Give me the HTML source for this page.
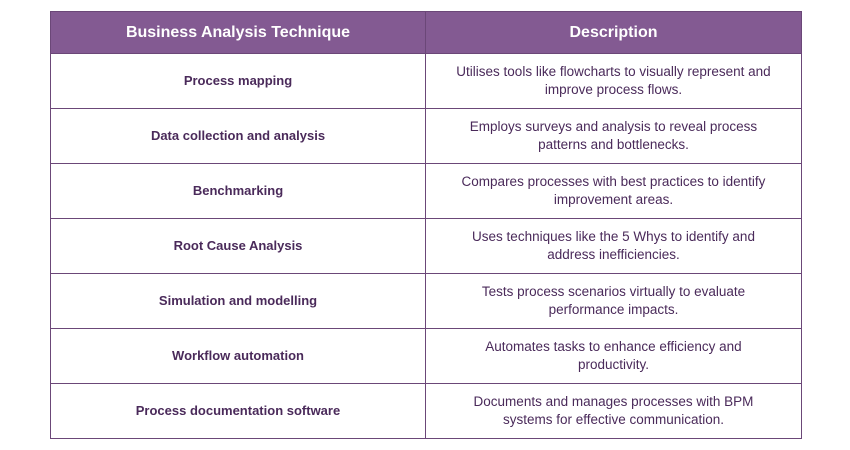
<!DOCTYPE html>
<html><head><style>
body{margin:0;width:850px;height:450px;background:#fff;font-family:"Liberation Sans",sans-serif;}
table{position:absolute;left:50px;top:11px;width:751px;border-collapse:collapse;table-layout:fixed;}
td,th{border:1px solid #6b4778;text-align:center;padding:0 8px;}
th{background:#835a92;color:#fff;font-size:16px;font-weight:bold;height:41px;}
td{height:54px;color:#4a2a5a;font-size:13.5px;line-height:18px;}
td:nth-child(2){padding:0 22px;}
td:first-child{font-weight:bold;font-size:13px;}
</style></head><body>
<table>
<colgroup><col style="width:375px"><col style="width:376px"></colgroup>
<tr><th>Business Analysis Technique</th><th>Description</th></tr>
<tr><td>Process mapping</td><td>Utilises tools like flowcharts to visually represent and improve process flows.</td></tr>
<tr><td>Data collection and analysis</td><td>Employs surveys and analysis to reveal process<br>patterns and bottlenecks.</td></tr>
<tr><td>Benchmarking</td><td>Compares processes with best practices to identify<br>improvement areas.</td></tr>
<tr><td>Root Cause Analysis</td><td>Uses techniques like the 5 Whys to identify and<br>address inefficiencies.</td></tr>
<tr><td>Simulation and modelling</td><td>Tests process scenarios virtually to evaluate<br>performance impacts.</td></tr>
<tr><td>Workflow automation</td><td>Automates tasks to enhance efficiency and<br>productivity.</td></tr>
<tr><td>Process documentation software</td><td>Documents and manages processes with BPM<br>systems for effective communication.</td></tr>
</table>
</body></html>
